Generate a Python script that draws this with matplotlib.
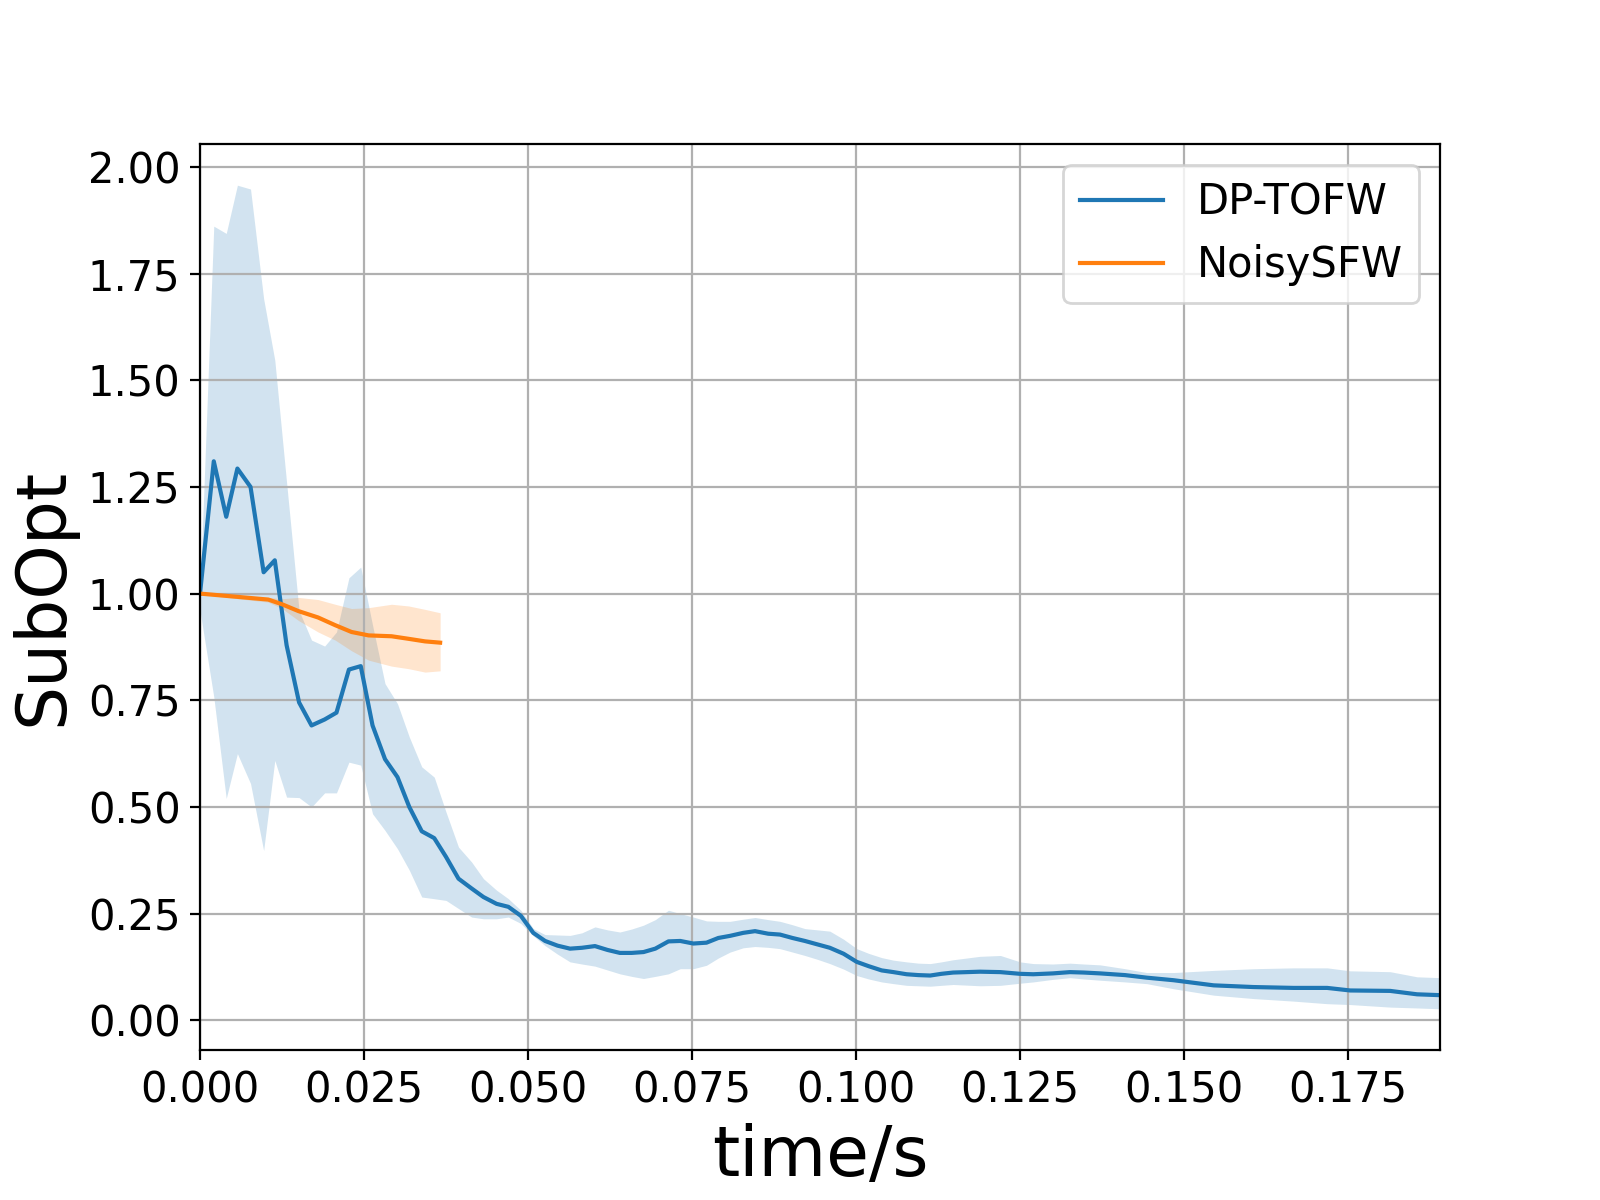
#!/usr/bin/env python3
"""SubOpt against wall-clock time for DP-TOFW and NoisySFW (mean and spread)."""

import matplotlib

matplotlib.use("Agg")

import matplotlib.pyplot as plt
import numpy as np


# ---------------------------------------------------------------------------
# Data
# ---------------------------------------------------------------------------

DP_TOFW_TIME = [
    0.0000, 0.0021, 0.0040, 0.0057, 0.0077, 0.0097, 0.0114, 0.0132, 0.0151,
    0.0170, 0.0190, 0.0208, 0.0227, 0.0245, 0.0263, 0.0282, 0.0301, 0.0319,
    0.0338, 0.0357, 0.0375, 0.0394, 0.0414, 0.0432, 0.0452, 0.0470, 0.0489,
    0.0508, 0.0526, 0.0545, 0.0564, 0.0582, 0.0602, 0.0621, 0.0640, 0.0658,
    0.0676, 0.0694, 0.0714, 0.0732, 0.0752, 0.0772, 0.0790, 0.0808, 0.0828,
    0.0846, 0.0866, 0.0884, 0.0903, 0.0922, 0.0941, 0.0960, 0.0981, 0.1001,
    0.1019, 0.1039, 0.1057, 0.1077, 0.1095, 0.1113, 0.1130, 0.1148, 0.1189,
    0.1220, 0.1250, 0.1270, 0.1300, 0.1326, 0.1347, 0.1372, 0.1410, 0.1443,
    0.1484, 0.1545, 0.1606, 0.1667, 0.1718, 0.1753, 0.1814, 0.1855, 0.1890,
]
DP_TOFW_MEAN = [
    1.000, 1.310, 1.180, 1.293, 1.250, 1.050, 1.078, 0.879, 0.745,
    0.691, 0.705, 0.721, 0.822, 0.830, 0.691, 0.612, 0.570, 0.500,
    0.443, 0.427, 0.383, 0.332, 0.309, 0.289, 0.273, 0.266, 0.245,
    0.205, 0.186, 0.175, 0.168, 0.170, 0.174, 0.165, 0.158, 0.158,
    0.160, 0.168, 0.185, 0.186, 0.180, 0.182, 0.193, 0.198, 0.205,
    0.209, 0.203, 0.201, 0.193, 0.186, 0.178, 0.170, 0.156, 0.137,
    0.127, 0.117, 0.113, 0.108, 0.106, 0.105, 0.109, 0.112, 0.114,
    0.113, 0.109, 0.108, 0.110, 0.113, 0.112, 0.110, 0.106, 0.100,
    0.094, 0.082, 0.078, 0.076, 0.076, 0.070, 0.069, 0.061, 0.059,
]
DP_TOFW_LOW = [
    0.960, 0.758, 0.520, 0.625, 0.555, 0.398, 0.609, 0.523, 0.522,
    0.500, 0.533, 0.533, 0.605, 0.598, 0.484, 0.445, 0.402, 0.352,
    0.289, 0.285, 0.281, 0.262, 0.242, 0.238, 0.238, 0.242, 0.227,
    0.198, 0.175, 0.155, 0.137, 0.132, 0.127, 0.118, 0.109, 0.103,
    0.098, 0.103, 0.109, 0.121, 0.121, 0.129, 0.146, 0.160, 0.170,
    0.173, 0.171, 0.168, 0.160, 0.152, 0.143, 0.133, 0.120, 0.105,
    0.097, 0.090, 0.086, 0.082, 0.081, 0.080, 0.082, 0.084, 0.081,
    0.082, 0.087, 0.090, 0.096, 0.100, 0.097, 0.094, 0.090, 0.086,
    0.074, 0.059, 0.051, 0.045, 0.039, 0.037, 0.031, 0.029, 0.027,
]
DP_TOFW_HIGH = [
    1.000, 1.861, 1.844, 1.957, 1.948, 1.691, 1.547, 1.260, 0.960,
    0.891, 0.877, 0.910, 1.037, 1.062, 0.926, 0.789, 0.742, 0.664,
    0.594, 0.570, 0.488, 0.406, 0.371, 0.332, 0.305, 0.285, 0.258,
    0.215, 0.201, 0.200, 0.199, 0.205, 0.219, 0.212, 0.207, 0.214,
    0.223, 0.236, 0.258, 0.250, 0.242, 0.233, 0.232, 0.232, 0.237,
    0.241, 0.236, 0.232, 0.224, 0.215, 0.212, 0.209, 0.190, 0.168,
    0.157, 0.147, 0.141, 0.137, 0.134, 0.133, 0.137, 0.142, 0.150,
    0.152, 0.137, 0.133, 0.132, 0.134, 0.132, 0.130, 0.121, 0.112,
    0.112, 0.117, 0.121, 0.123, 0.123, 0.116, 0.114, 0.102, 0.100,
]

NOISY_SFW_TIME = [
    0.0000, 0.0104, 0.0125, 0.0150, 0.0180, 0.0206,
    0.0231, 0.0257, 0.0292, 0.0318, 0.0343, 0.0366,
]
NOISY_SFW_MEAN = [
    1.000, 0.986, 0.975, 0.959, 0.944, 0.926,
    0.910, 0.902, 0.900, 0.894, 0.888, 0.885,
]
NOISY_SFW_LOW = [
    0.998, 0.980, 0.965, 0.937, 0.910, 0.891,
    0.866, 0.844, 0.830, 0.824, 0.816, 0.819,
]
NOISY_SFW_HIGH = [
    1.002, 0.991, 0.988, 0.991, 0.986, 0.975,
    0.965, 0.967, 0.975, 0.971, 0.963, 0.955,
]

X_MAX = 0.189
BAND_ALPHA = 0.2


# ---------------------------------------------------------------------------
# Plot
# ---------------------------------------------------------------------------

figure, axis = plt.subplots(figsize=(8, 6), dpi=200)
figure.subplots_adjust(left=0.125, right=0.9, bottom=0.125, top=0.88)

methods = [
    ("DP-TOFW", "tab:blue", DP_TOFW_TIME, DP_TOFW_MEAN, DP_TOFW_LOW, DP_TOFW_HIGH),
    ("NoisySFW", "tab:orange", NOISY_SFW_TIME, NOISY_SFW_MEAN, NOISY_SFW_LOW,
     NOISY_SFW_HIGH),
]

for label, colour, times, mean, low, high in methods:
    times = np.asarray(times)
    axis.plot(times, mean, color=colour, linewidth=1.5, label=label)
    axis.fill_between(times, low, high, color=colour, alpha=BAND_ALPHA,
                      linewidth=0)

axis.set_xlim(0, X_MAX)
axis.set_xlabel("time/s", fontsize=25)
axis.set_ylabel("SubOpt", fontsize=25)
axis.tick_params(labelsize=15)
axis.grid(True)
axis.legend(loc="upper right", fontsize=15)

figure.savefig("out.png", dpi=200)
